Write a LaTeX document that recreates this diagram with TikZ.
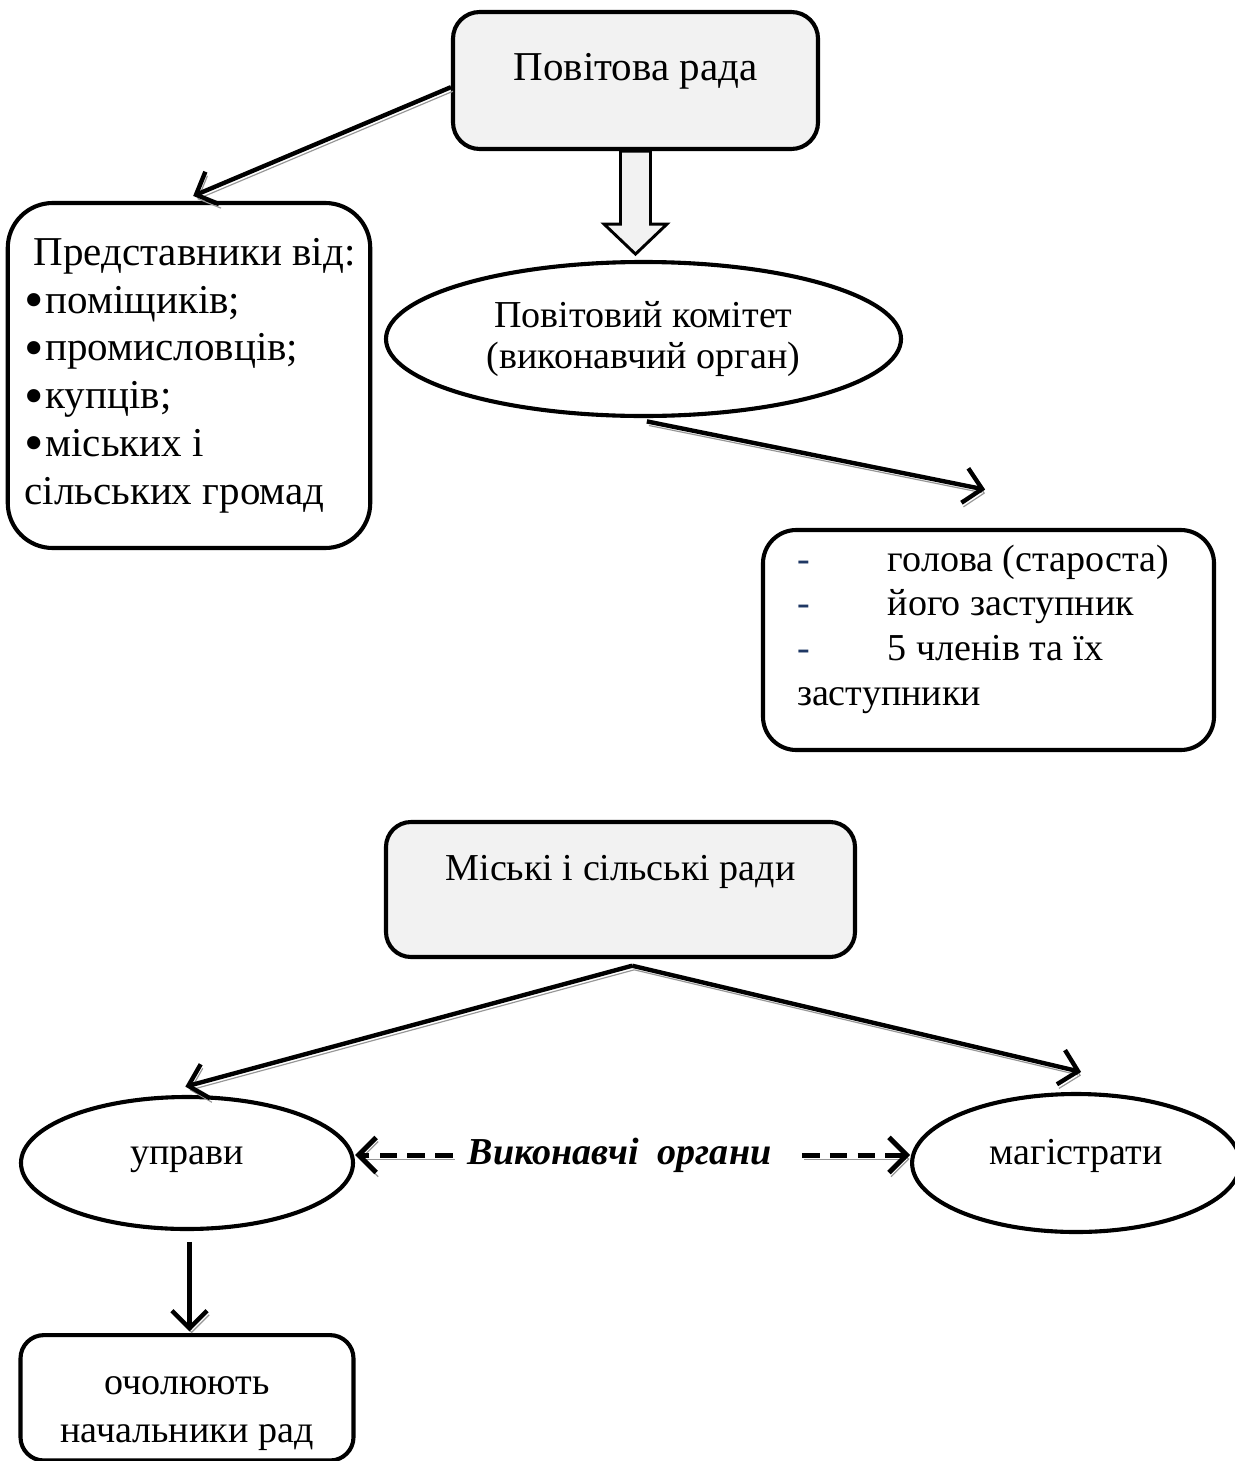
\documentclass[tikz,border=0pt]{standalone}
\usepackage{fontspec}
\setmainfont{Liberation Serif}
\usepackage{xcolor}
\usepackage{tikz}
\usetikzlibrary{arrows.meta,positioning,shapes.geometric,calc}
\definecolor{boxgray}{RGB}{242,242,242}
\definecolor{shadowgray}{RGB}{150,150,150}
\definecolor{dashnavy}{RGB}{31,56,100}
\newcommand{\blt}{\raisebox{-0.3ex}{\scalebox{1.35}{•}}\kern0.6pt}
\newcommand{\dsh}{\makebox[1.09cm][l]{\textcolor{dashnavy}{-}}}

\begin{document}
\begin{tikzpicture}[font=\fontsize{13pt}{16.3pt}\selectfont,
  >={Straight Barb[length=6pt,width=12pt]},
  roundbox/.style={draw,line width=1.4pt,rounded corners=#1,align=center},
  roundbox/.default=0.3cm,
  oval/.style={draw,ellipse,line width=1.4pt,inner sep=0pt,align=center},
  link/.style={->,line width=1.5pt,
    preaction={draw=shadowgray,transform canvas={shift={(0.7pt,-1.4pt)}}}},
  dashlink/.style={link,line width=1.7pt,dash pattern=on 6pt off 3.5pt},
  blockarrow/.style={draw,line width=1pt,fill=boxgray,line join=miter}]

  \useasboundingbox (0,0) rectangle (14.82,-17.532);

  \node[roundbox=0.32cm,fill=boxgray,minimum width=4.38cm,minimum height=1.644cm,
        text height=0.33cm,text depth=0.34cm,font=\fontsize{14pt}{16pt}\selectfont]
        (povrada) at (7.626,-0.966) {Повітова рада};

  \node[roundbox=0.54cm,minimum width=4.344cm,minimum height=4.14cm,
        align=flush left,text width=3.95cm,inner xsep=0.2cm,
        font=\fontsize{14pt}{16.3pt}\selectfont]
        (predst) at (2.268,-4.506) {\hspace*{0.11cm}\mbox{Представники від:}\\\blt поміщиків;\\\blt промисловців;\\\blt купців;\\\blt міських і\\сільських громад};

  \node[oval,minimum width=6.18cm,minimum height=1.848cm,
        font=\fontsize{13pt}{14.3pt}\selectfont]
        (komitet) at (7.722,-4.068) {Повітовий комітет\\(виконавчий орган)};

  \node[roundbox=0.4cm,minimum width=5.412cm,minimum height=2.64cm,
        align=flush left,text width=4.596cm,inner xsep=0.408cm,inner ysep=0.1cm,
        font=\fontsize{13pt}{15.3pt}\selectfont]
        (chleny) at (11.862,-7.68) {\dsh\mbox{голова (староста)}\\
              \dsh\mbox{його заступник}\\
              \dsh\mbox{5 членів та їх}\\
              заступники\rule[-0.36cm]{0pt}{0pt}};

  \node[roundbox=0.3cm,fill=boxgray,minimum width=5.628cm,minimum height=1.62cm,
        text height=0.33cm,text depth=0.55cm]
        (miski) at (7.446,-10.674) {Міські і сільські ради};

  \node[oval,minimum width=3.984cm,minimum height=1.584cm,
        text height=0.27cm,text depth=0.23cm]
        (upravy) at (2.244,-13.956) {управи};

  \node[oval,minimum width=3.936cm,minimum height=1.656cm,
        text height=0.27cm,text depth=0.23cm,right=6.66cm of upravy]
        (magistr) {магістрати};

  \node[roundbox=0.28cm,minimum width=3.996cm,minimum height=1.488cm,below=1.224cm of upravy]
        (ochol) {\rule{0pt}{0.6cm}очолюють\\начальники рад};

  \node[font=\fontsize{13pt}{15pt}\selectfont\bfseries\itshape,inner sep=0pt]
        (vykon) at (7.434,-13.86) {Виконавчі\ \ органи};

  % upper scheme
  \draw[link] ($(povrada.west)+(0,-0.08)$) -- ($(predst.north)+(0.05,0.06)$);
  \draw[blockarrow] ($(povrada.south)+(-0.18,0)$) -- ++(0,-0.876) -- ++(-0.198,0)
        -- ($(povrada.south |- komitet.north)+(0,0.07)$)
        -- ($(povrada.south)+(0.378,-0.876)$) -- ++(-0.198,0)
        -- ($(povrada.south)+(0.18,0)$) -- cycle;
  \draw[link] ($(komitet.south)+(0.04,-0.04)$) -- ($(chleny.north)+(-0.04,0.46)$);

  % lower scheme
  \coordinate (apex) at ($(miski.south)+(0.14,-0.08)$);
  \draw[link] (apex) -- ($(upravy.north)+(-0.02,0.1)$);
  \draw[link] (apex) -- ($(magistr.north)+(0.06,0.24)$);
  \draw[link] ($(upravy.south)+(0.03,-0.13)$) -- ($(ochol.north)+(0.03,0.02)$);
  \draw[dashlink] ($(vykon.west)+(-0.17,0)$) -- (vykon.west -| upravy.east);
  \draw[dashlink] ($(vykon.east)+(0.36,0)$) -- (vykon.east -| magistr.west);

\end{tikzpicture}
\end{document}
